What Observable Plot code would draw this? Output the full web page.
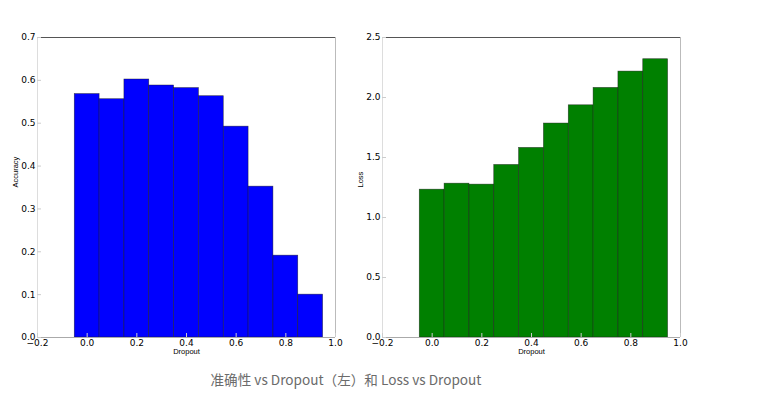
<!DOCTYPE html>
<html>
<head>
<meta charset="utf-8">
<script src="https://cdn.jsdelivr.net/npm/d3@7"></script>
<script src="https://cdn.jsdelivr.net/npm/@observablehq/plot@0.6"></script>
<style>
  body { margin: 0; background: #fff; }
  #wrap { position: relative; width: 775px; height: 399px; }
  #left { position: absolute; left: 0; top: 0; }
  #right { position: absolute; left: 345px; top: 0; }
  #caption { position: absolute; left: 0; width: 692px; top: 369px; text-align: center;
    font-family: "Noto Sans CJK SC", "Noto Sans", sans-serif; font-size: 13.6px; color: #6b6b6b; }
</style>
</head>
<body>
<div id="wrap">
  <div id="left"></div>
  <div id="right"></div>
  <div id="caption">准确性 vs Dropout（左）和 Loss vs Dropout</div>
</div>
<script>
const dropout = [0.0, 0.1, 0.2, 0.3, 0.4, 0.5, 0.6, 0.7, 0.8, 0.9];
const accuracy = [0.568, 0.556, 0.602, 0.588, 0.582, 0.563, 0.492, 0.352, 0.191, 0.100];
const loss = [1.232, 1.282, 1.274, 1.438, 1.580, 1.783, 1.935, 2.080, 2.216, 2.319];
const xTicks = [-0.2, 0.0, 0.2, 0.4, 0.6, 0.8, 1.0];
const accTicks = [0.0, 0.1, 0.2, 0.3, 0.4, 0.5, 0.6, 0.7];
const lossTicks = [0.0, 0.5, 1.0, 1.5, 2.0, 2.5];
const barWidth = 0.1;

function fmt(d) { return (d < 0 ? "\u2212" : "") + Math.abs(d).toFixed(1); }

function panel(values, yTicks, yMax, yLabel, color) {
  const data = dropout.map((d, i) => ({x1: d - barWidth / 2, x2: d + barWidth / 2, y: values[i]}));
  const [x0, x1] = [xTicks[0], xTicks[xTicks.length - 1]];
  return Plot.plot({
    width: 345, height: 360,
    marginLeft: 37, marginRight: 10, marginTop: 37, marginBottom: 23,
    style: {fontFamily: "'DejaVu Sans', sans-serif", fontSize: "9px", color: "#000", background: "#fff"},
    x: {domain: [x0, x1]},
    y: {domain: [0, yMax]},
    marks: [
      Plot.rectY(data, {x1: "x1", x2: "x2", y: "y", fill: color, stroke: "#1a1a1a", strokeWidth: 0.6, strokeOpacity: 0.7}),
      Plot.ruleY([yMax], {stroke: "#555", strokeWidth: 1.2}),
      Plot.ruleX([x1], {stroke: "#bbb", strokeWidth: 1}),
      Plot.ruleX([x0], {stroke: "#ddd", strokeWidth: 1}),
      Plot.ruleY([0], {stroke: "#aaa", strokeWidth: 1}),
      Plot.axisX({ticks: xTicks, tickSize: -4, tickFormat: () => "", stroke: "#ccc", anchor: "bottom"}),
      Plot.axisX({ticks: xTicks, tickSize: 0, tickPadding: 2, tickFormat: fmt, anchor: "bottom", label: null, fontSize: 9}),
      Plot.axisY({ticks: yTicks, tickSize: -4, tickFormat: () => "", stroke: "#ccc", anchor: "left", label: null}),
      Plot.axisY({ticks: yTicks, tickSize: 0, tickPadding: 2, tickFormat: d => d.toFixed(1), anchor: "left", label: null, fontSize: 9}),
      Plot.text(["Dropout"], {frameAnchor: "bottom", dy: 16.5, fontSize: 7.5, fontFamily: "'Liberation Sans', Arial, sans-serif", text: d => d}),
      Plot.text([yLabel], {frameAnchor: "left", dx: -22, rotate: -90, fontSize: 7.5, fontFamily: "'Liberation Sans', Arial, sans-serif", text: d => d})
    ]
  });
}

document.getElementById("left").appendChild(panel(accuracy, accTicks, 0.7, "Accuracy", "#0000ff"));
document.getElementById("right").appendChild(panel(loss, lossTicks, 2.5, "Loss", "#008000"));
</script>
</body>
</html>
